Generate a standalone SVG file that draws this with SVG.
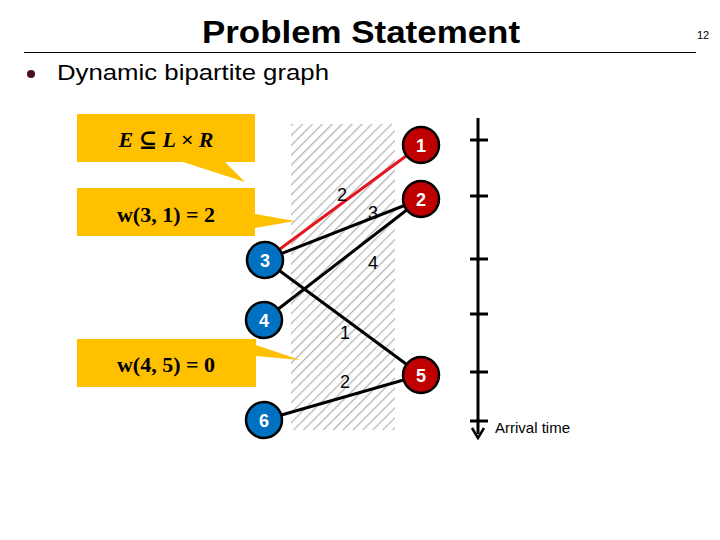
<svg xmlns="http://www.w3.org/2000/svg" width="720" height="540" viewBox="0 0 720 540">
<style>
.t{font-family:"Liberation Sans",Arial,sans-serif}
.nl{font-family:"Liberation Sans",Arial,sans-serif;font-size:18px;font-weight:bold;fill:#fff;text-anchor:middle}
.el{font-family:"Liberation Sans",Arial,sans-serif;font-size:18px;fill:#000;text-anchor:middle}
.math{font-family:"Liberation Serif","DejaVu Serif",serif;font-size:22px;font-weight:bold;text-anchor:middle}
.callout{fill:#FFC000}
.blue{fill:#0070C0;stroke:#000;stroke-width:2.5}
.red{fill:#C00000;stroke:#000;stroke-width:2.5}
.edge{stroke:#000;stroke-width:3;fill:none}
</style>
<defs>
<pattern id="hatch" width="7" height="7" patternUnits="userSpaceOnUse" patternTransform="rotate(45)">
<rect width="7" height="7" fill="#fff"/>
<line x1="0" y1="0" x2="0" y2="7" stroke="#b4b4b4" stroke-width="2.5"/>
</pattern>
<marker id="arr" viewBox="0 0 10 10" refX="5" refY="8" markerWidth="5" markerHeight="5" orient="auto-start-reverse" markerUnits="userSpaceOnUse">
</marker>
</defs>
<rect width="720" height="540" fill="#fff"/>
<text class="t" x="361" y="43" font-size="32" font-weight="bold" text-anchor="middle" textLength="318" lengthAdjust="spacingAndGlyphs">Problem Statement</text>
<text class="t" x="697" y="39" font-size="11">12</text>
<line x1="24" y1="52.5" x2="696" y2="52.5" stroke="#000" stroke-width="1.2"/>
<circle cx="31" cy="74" r="4" fill="#4d0b2a"/>
<text class="t" x="57" y="80" font-size="22" textLength="272" lengthAdjust="spacingAndGlyphs">Dynamic bipartite graph</text>

<rect x="291" y="124" width="104" height="306" fill="url(#hatch)"/>

<g id="callout1">
<polygon class="callout" points="77,114 255,114 255,162 225,162 245,182 183,162 77,162"/>
<text class="math" x="166" y="147" font-style="italic">E ⊆ L × R</text>
</g>
<g id="callout2">
<polygon class="callout" points="77,188 255,188 255,214 295,221 255,228 255,236 77,236"/>
<text class="math" x="166" y="222">w(3, 1) = 2</text>
</g>
<g id="callout3">
<polygon class="callout" points="77,339 256,339 256,345 300,360 256,356 256,387 77,387"/>
<text class="math" x="166" y="372">w(4, 5) = 0</text>
</g>

<g id="connectors">
<line x1="265" y1="260" x2="421" y2="145" stroke="#e8141c" stroke-width="3"/>
<line class="edge" x1="265" y1="260" x2="421" y2="199"/>
<line class="edge" x1="264" y1="320" x2="421" y2="199"/>
<line class="edge" x1="265" y1="260" x2="421" y2="375" stroke-width="3.5"/>
<line class="edge" x1="264" y1="420" x2="421" y2="375"/>
<text class="el" x="342" y="201">2</text>
<text class="el" x="373" y="219">3</text>
<text class="el" x="373" y="269">4</text>
<text class="el" x="345" y="339">1</text>
<text class="el" x="345" y="388">2</text>
</g>

<g id="n1"><circle class="red" cx="421" cy="145" r="18"/><text class="nl" x="421" y="151.5">1</text></g>
<g id="n2"><circle class="red" cx="421" cy="199" r="18"/><text class="nl" x="421" y="205.5">2</text></g>
<g id="n5"><circle class="red" cx="421" cy="375" r="18"/><text class="nl" x="421" y="381.5">5</text></g>
<g id="n3"><circle class="blue" cx="265" cy="260" r="18"/><text class="nl" x="265" y="266.5">3</text></g>
<g id="n4"><circle class="blue" cx="264" cy="320" r="18"/><text class="nl" x="264" y="326.5">4</text></g>
<g id="n6"><circle class="blue" cx="264" cy="420" r="18"/><text class="nl" x="264" y="426.5">6</text></g>

<g id="timeline">
<line x1="478" y1="118" x2="478" y2="434" stroke="#000" stroke-width="3"/>
<polyline points="472,428 478,438 484,428" fill="none" stroke="#000" stroke-width="2.5"/>
<g stroke="#000" stroke-width="3">
<line x1="470" y1="140" x2="488" y2="140"/>
<line x1="470" y1="196" x2="488" y2="196"/>
<line x1="470" y1="259" x2="488" y2="259"/>
<line x1="470" y1="314" x2="488" y2="314"/>
<line x1="470" y1="372" x2="488" y2="372"/>
<line x1="470" y1="421" x2="488" y2="421"/>
</g>
<text class="t" x="495" y="433" font-size="15">Arrival time</text>
</g>
</svg>
